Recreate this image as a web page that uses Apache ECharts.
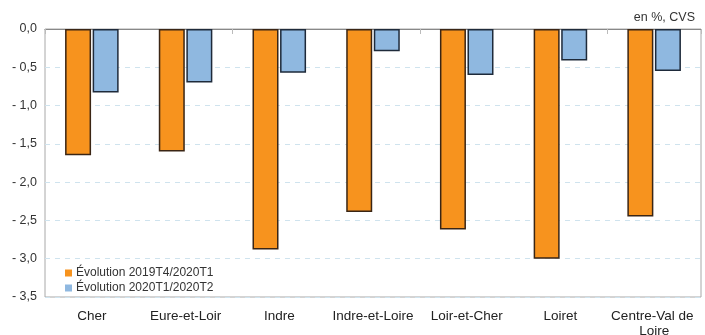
<!DOCTYPE html>
<html><head><meta charset="utf-8">
<script src="https://cdn.jsdelivr.net/npm/echarts@6/dist/echarts.min.js"></script>
<style>html,body{margin:0;padding:0;background:#fff}#c{width:705px;height:335px}</style>
</head><body><div id="c"></div>
<script>
const categories = ['Cher','Eure-et-Loir','Indre','Indre-et-Loire','Loir-et-Cher','Loiret','Centre-Val de Loire'];
const seriesNames = ['Évolution 2019T4/2020T1','Évolution 2020T1/2020T2'];
const evol1 = [-1.65,-1.60,-2.88,-2.39,-2.62,-3.00,-2.45];
const evol2 = [-0.83,-0.70,-0.57,-0.29,-0.60,-0.41,-0.55];
const yTicks = {min:-3.5, max:0, interval:0.5};
const unitLabel = 'en %, CVS';

const chart = echarts.init(document.getElementById('c'));
const font = 'Liberation Sans, Arial, sans-serif';
chart.setOption({
  animation:false,
  grid:{left:45,right:4,top:29,bottom:38,show:true,borderColor:'#a8a8a8',borderWidth:1,outerBoundsMode:'none',containLabel:false},
  graphic:[{type:'text',right:10,top:11,style:{text:unitLabel,font:'12.5px '+font,fill:'#333'}}],
  legend:{orient:'vertical',left:60,top:262,itemWidth:7,itemHeight:7,itemGap:3,icon:'rect',
    textStyle:{fontFamily:font,fontSize:12,color:'#333',padding:[0,0,0,-1]},
    itemStyle:{borderWidth:0},data:seriesNames},
  xAxis:[
    {type:'category',data:categories,position:'bottom',
     axisLine:{show:false},axisTick:{show:false},
     axisLabel:{fontFamily:font,fontSize:13.5,color:'#222',margin:12,interval:0,width:92,overflow:'break',lineHeight:15}},
    {type:'category',data:categories,position:'top',
     axisLine:{show:true,onZero:false,lineStyle:{color:'#888',width:1}},
     axisTick:{show:true,inside:true,length:5,lineStyle:{color:'#bbb'}},
     axisLabel:{show:false}}
  ],
  yAxis:{type:'value',min:yTicks.min,max:yTicks.max,interval:yTicks.interval,
    axisLine:{show:false},axisTick:{show:false},
    axisLabel:{fontFamily:font,fontSize:12.5,color:'#333',margin:8,
      formatter:v=>v===0?'0,0':'- '+Math.abs(v).toFixed(1).replace('.',',')},
    splitLine:{show:true,lineStyle:{color:'#cfe3ee',type:[5,5],width:1}}},
  series:[
    {name:seriesNames[0],type:'bar',data:evol1,barWidth:26,barGap:'6%',
     itemStyle:{color:'#f7931e',borderColor:'#3a2514',borderWidth:1.5}},
    {name:seriesNames[1],type:'bar',data:evol2,barWidth:26,
     itemStyle:{color:'#8fb8e0',borderColor:'#1e2a3a',borderWidth:1.5}}
  ]
});
</script></body></html>
